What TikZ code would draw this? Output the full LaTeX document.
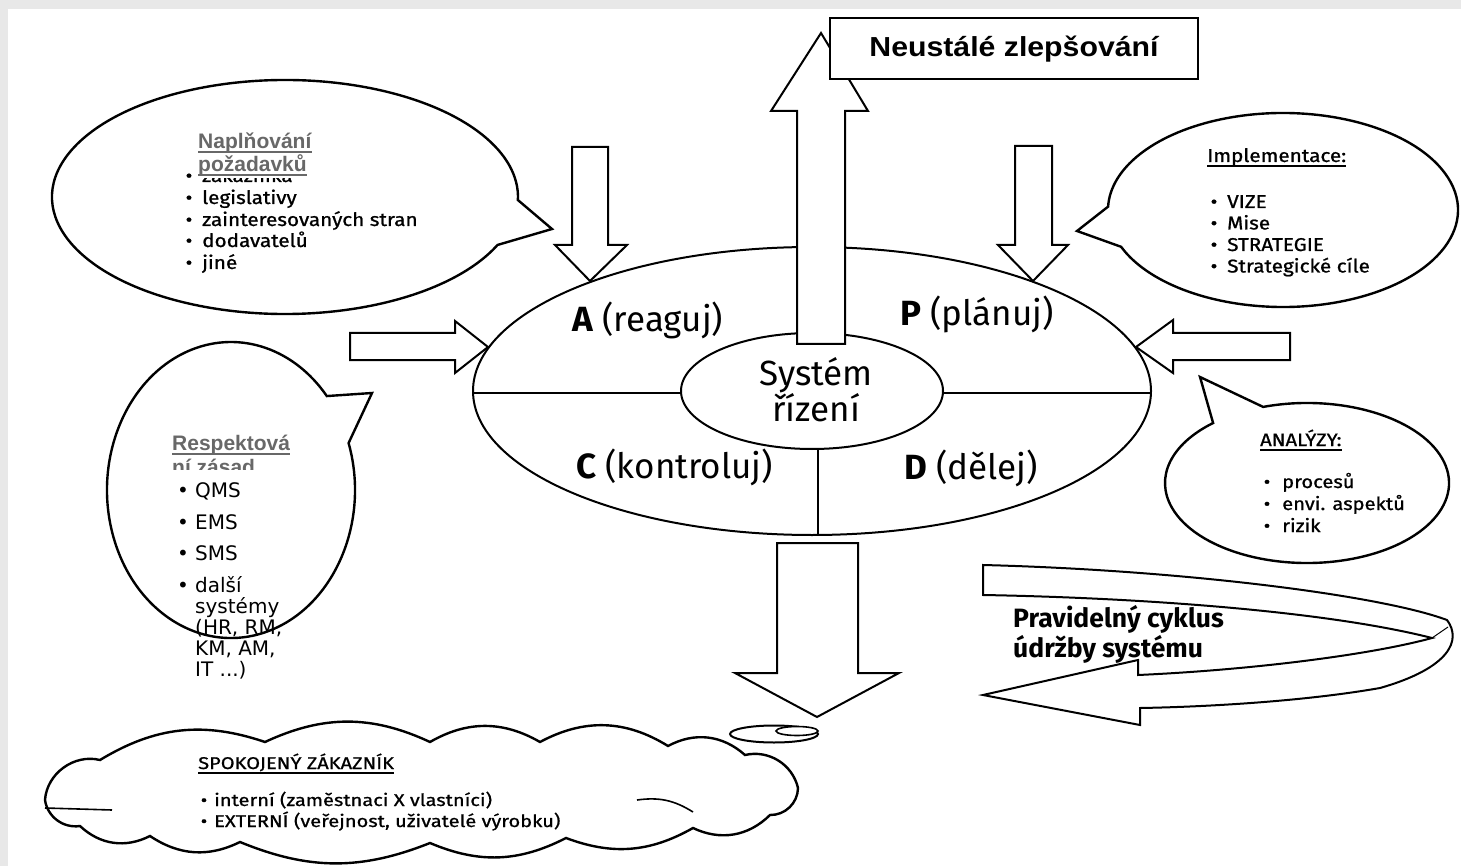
\documentclass[tikz,border=0pt]{standalone}
\usepackage{fontspec}
\setmainfont{Fira Sans}
\newfontfamily\arialf{Liberation Sans}
\newfontfamily\arialw{Liberation Sans}[FakeStretch=1.1]
\newfontfamily\tahf{DejaVu Sans}
\newfontfamily\medf{Fira Sans}[FakeBold=1, FakeStretch=1.12]
\newfontfamily\cldf{Fira Sans}[FakeBold=0.8, FakeStretch=1.18]
\usetikzlibrary{shapes.geometric}
\definecolor{bgg}{HTML}{E8E8E8}
\definecolor{hgrey}{HTML}{686868}
\tikzset{
  blk/.style={draw=black, line width=2pt, fill=white, line join=miter},
  bub/.style={draw=black, line width=2.4pt, fill=white, line join=miter},
  lbl/.style={inner sep=0pt, anchor=base west, font=\fontsize{35}{40}\selectfont},
  btx/.style={inner sep=0pt, anchor=base west, font=\medf\fontsize{18.5}{20}\selectfont},
  atx/.style={inner sep=0pt, anchor=base west, font=\medf\fontsize{18}{20}\selectfont},
  ctx/.style={inner sep=0pt, anchor=base west, font=\cldf\fontsize{17}{19}\selectfont},
  ghead/.style={inner sep=0pt, anchor=base west, text=hgrey, font=\arialf\bfseries\fontsize{21}{24}\selectfont},
  qtx/.style={inner sep=0pt, anchor=base west, font=\tahf\fontsize{20}{21}\selectfont},
  uline/.style={line width=1.3pt},
  gline/.style={line width=2pt, draw=hgrey},
}
\begin{document}
\begin{tikzpicture}[x=1pt,y=-1pt]
\useasboundingbox (0,0) rectangle (1461,866);
\fill[bgg] (0,0) rectangle (1461,866);
\fill[white] (8,9) rectangle (1461,866);

% ---------- central PDCA ellipse ----------
\node[ellipse, draw, line width=2pt, minimum width=678pt, minimum height=288pt, inner sep=0pt] (main) at (812,391) {};
\node[ellipse, draw, line width=2pt, fill=white, minimum width=262pt, minimum height=116pt, inner sep=0pt] (inner) at (812,391) {};
\coordinate (dl1) at (473.5,393);
\coordinate (dl2) at (681,393);
\coordinate (dr1) at (943,393);
\coordinate (dr2) at (1150.5,393);
\draw[line width=2pt] (dl1) -- (dl2);
\draw[line width=2pt] (dr1) -- (dr2);
\draw[line width=2pt] (inner.south) ++(6,0) coordinate (vl1) -- (main.south -| vl1) coordinate (vl2);

% ---------- up arrow + box ----------
\path[blk] (797,344) -- (797,111) -- (771,111) -- (821,33) -- (868,111) -- (845,111) -- (845,344) -- cycle;
\node[draw, line width=2pt, fill=white, minimum width=368pt, minimum height=61pt, inner sep=0pt] (ns) at (1014,48.5) {};
\node[inner sep=0pt, anchor=base, font=\arialw\bfseries\fontsize{27.5}{30}\selectfont] (nstxt) at (1014,57) {Neustálé zlepšování};

% ---------- arrows towards the ellipse ----------
\path[blk] (572,147) -- (572,245) -- (555,245) -- (590,281) -- (627,245) -- (608,245) -- (608,147) -- cycle;
\path[blk] (1015,146) -- (1015,245) -- (998,245) -- (1033,281) -- (1068,245) -- (1052,245) -- (1052,146) -- cycle;
\path[blk] (350,333) -- (455,333) -- (455,321) -- (488,347) -- (455,373) -- (455,360) -- (350,360) -- cycle;
\path[blk] (1290,333) -- (1173,333) -- (1173,320) -- (1136,347) -- (1173,373) -- (1173,360) -- (1290,360) -- cycle;
\path[blk] (777,543) -- (777,673) -- (735,673) -- (817,717) -- (899,673) -- (858,673) -- (858,543) -- cycle;

% ---------- bubbles ----------
\path[bub] ([shift={(285,197)}]1.5:233 and 117) -- (552,229) -- ([shift={(285,197)}]24.2:233 and 117)
  arc[start angle=24.2, end angle=361.5, x radius=233, y radius=117] -- cycle;
\path[bub] ([shift={(1283,210)}]-178:175 and 97) -- (1077,231) -- ([shift={(1283,210)}]157.7:175 and 97)
  arc[start angle=157.7, end angle=-178, x radius=175, y radius=97] -- cycle;
\path[bub] ([shift={(231,490)}]-39.4:124 and 148) -- (372,393) -- ([shift={(231,490)}]-18.5:124 and 148)
  arc[start angle=-18.5, end angle=320.6, x radius=124, y radius=148] -- cycle;
\path[bub] ([shift={(1307,483)}]-131.4:142 and 80) -- (1200,377) -- ([shift={(1307,483)}]-108:142 and 80)
  arc[start angle=-108, end angle=228.6, x radius=142, y radius=80] -- cycle;

% ---------- cloud ----------
\path[bub] (45,800) to[bend left=50] (100,760) to[bend left=25] (265,742) to[bend left=25] (430,742)
  to[bend left=30] (540,742) to[bend left=30] (668,746) to[bend left=35] (745,755)
  to[bend left=45] (798,788) to[bend left=45] (770,815) to[bend left=35] (693,828)
  to[bend left=25] (566,838) to[bend left=25] (430,843) to[bend left=22] (240,842)
  to[bend left=30] (150,836) to[bend left=35] (80,826) to[bend left=45] (45,800) -- cycle;
\draw[line width=1.6pt] (45,808) -- (112,810);
\draw[line width=1.6pt] (637,800) to[bend left=20] (693,812);
\draw[bub, line width=2pt] (774,734) ellipse [x radius=44, y radius=8.5];
\draw[bub, line width=1.6pt] (797,731) ellipse [x radius=21, y radius=4.5];

% ---------- maintenance cycle arrow ----------
\path[blk] (983,565) .. controls (1180,570) and (1380,595) .. (1447,620)
  .. controls (1462,640) and (1450,668) .. (1380,688)
  .. controls (1300,702) and (1200,707) .. (1140,708)
  -- (1140,725) -- (983,695) -- (1138,660) -- (1138,675)
  .. controls (1250,670) and (1370,655) .. (1432,638)
  .. controls (1330,612) and (1150,598) .. (983,595) -- cycle;
\draw[line width=1pt] (1432,638) -- (1448,627);

% ---------- texts: PDCA ----------
\node[lbl] (A) at (572,332) {\textbf{A} (reaguj)};
\node[lbl] (P) at (900,326) {\textbf{P} (plánuj)};
\node[lbl] (C) at (576,478) {\textbf{C} (kontroluj)};
\node[lbl] (D) at (904,479) {\textbf{D} (dělej)};
\node[lbl, anchor=base] (sys1) at (816,385) {Systém};
\node[lbl, anchor=base] (sys2) at (816,421) {řízení};

% ---------- texts: bubble 1 ----------
\foreach \t/\y/\n in {zákazníka/182/q1, legislativy/204/q2, zainteresovaných stran/226/q3, dodavatelů/247/q4, jiné/269/q5}{
  \node[btx] (\n) at (202,\y) {\t};
  \node[btx, anchor=base] (\n b) at (189,\y) {•};
}
\fill[white] (196,126) rectangle (320,178);
\node[ghead] (nap1) at (198,149) {Naplňování};
\node[ghead] (nap2) at (198,172) {požadavků};
\draw[gline] ([yshift=-3.5pt]nap1.base west) -- ([yshift=-3.5pt]nap1.base east);
\draw[gline] ([yshift=-3.5pt]nap2.base west) -- ([yshift=-3.5pt]nap2.base east);

% ---------- texts: Implementace ----------
\node[btx] (imp) at (1207,162) {Implementace:};
\draw[uline] ([yshift=-4pt]imp.base west) -- ([yshift=-4pt]imp.base east);
\foreach \t/\y/\n in {VIZE/208/i1, Mise/229.5/i2, STRATEGIE/251/i3, Strategické cíle/272.5/i4}{
  \node[btx] (\n) at (1227,\y) {\t};
  \node[btx, anchor=base] (\n b) at (1214,\y) {•};
}

% ---------- texts: Analyzy ----------
\node[atx] (an) at (1260,446) {ANALÝZY:};
\draw[uline] ([yshift=-4pt]an.base west) -- ([yshift=-4pt]an.base east);
\foreach \t/\y/\n in {procesů/488/a1, envi. aspektů/510/a2, rizik/532/a3}{
  \node[atx] (\n) at (1282,\y) {\t};
  \node[atx, anchor=base] (\n b) at (1267,\y) {•};
}

% ---------- texts: Respektovani ----------
\begin{scope}
  \clip (160,420) rectangle (320,469.5);
  \node[ghead] (res1) at (172,450) {Respektová};
  \node[ghead] (res2) at (172,474) {ní zásad};
\end{scope}
\draw[gline] ([yshift=-3.5pt]res1.base west) -- ([yshift=-3.5pt]res1.base east);
\foreach \t/\y/\n in {QMS/497/m1, EMS/529/m2, SMS/560/m3, další/592/m4}{
  \node[qtx] (\n) at (195,\y) {\t};
  \node[qtx, anchor=base] (\n b) at (183,\y) {•};
}
\node[qtx] (m5) at (195,613) {systémy};
\node[qtx] (m6) at (195,634) {(HR, RM,};
\node[qtx] (m7) at (195,655) {KM, AM,};
\node[qtx] (m8) at (195,676) {IT ...)};

% ---------- texts: cloud ----------
\node[ctx] (sz) at (198,769) {SPOKOJENÝ ZÁKAZNÍK};
\draw[uline] ([yshift=-4pt]sz.base west) -- ([yshift=-4pt]sz.base east);
\node[ctx] (z1) at (214,806) {interní (zaměstnaci X vlastníci)};
\node[ctx, anchor=base] (z1b) at (204,806) {•};
\node[ctx] (z2) at (214,827) {EXTERNÍ (veřejnost, uživatelé výrobku)};
\node[ctx, anchor=base] (z2b) at (204,827) {•};

% ---------- texts: cycle ----------
\node[inner sep=0pt, anchor=base west, font=\bfseries\fontsize{26.5}{30}\selectfont] (cy1) at (1013,627) {Pravidelný cyklus};
\node[inner sep=0pt, anchor=base west, font=\bfseries\fontsize{26.5}{30}\selectfont] (cy2) at (1013,657) {údržby systému};
\end{tikzpicture}
\end{document}
